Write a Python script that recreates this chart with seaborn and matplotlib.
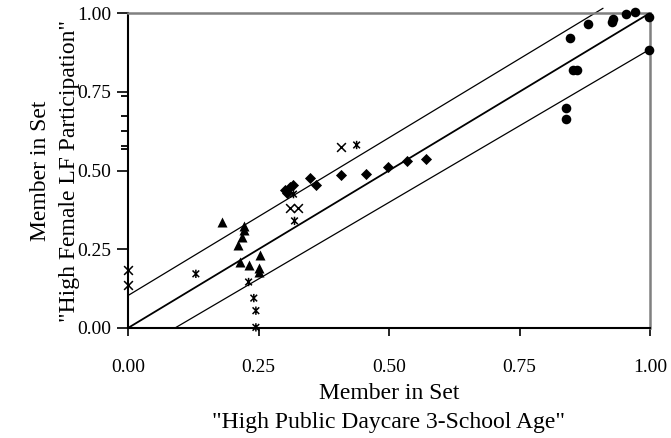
import numpy as np
import pandas as pd
import matplotlib
matplotlib.use("Agg")
import matplotlib.pyplot as plt
from matplotlib.path import Path
import seaborn as sns

# ---- data ----
circles_x = [0.847, 0.881, 0.927, 0.930, 0.954, 0.971, 0.998, 0.998, 0.853, 0.860, 0.839, 0.839]
circles_y = [0.920, 0.965, 0.970, 0.982, 0.997, 1.002, 0.988, 0.883, 0.819, 0.819, 0.697, 0.662]

diamonds_x = [0.301, 0.304, 0.310, 0.317, 0.349, 0.360, 0.409, 0.455, 0.499, 0.534, 0.570]
diamonds_y = [0.438, 0.427, 0.449, 0.454, 0.475, 0.454, 0.486, 0.489, 0.510, 0.530, 0.538]

triangles_x = [0.181, 0.222, 0.222, 0.218, 0.211, 0.215, 0.232, 0.253, 0.250, 0.250]
triangles_y = [0.338, 0.324, 0.311, 0.290, 0.263, 0.210, 0.200, 0.232, 0.190, 0.177]

xmarks_x = [0.0, 0.0, 0.409, 0.310, 0.325]
xmarks_y = [0.184, 0.138, 0.576, 0.380, 0.380]

asterisk_x = [0.130, 0.231, 0.241, 0.245, 0.245, 0.438, 0.319, 0.317]
asterisk_y = [0.172, 0.146, 0.095, 0.055, 0.002, 0.581, 0.340, 0.425]

dashes_x = [-0.005, -0.005, -0.005, -0.005, -0.005]
dashes_y = [0.735, 0.673, 0.626, 0.577, 0.569]

# reference lines
center_x = [0.0, 1.0]
center_y = [0.0, 1.0]
upper_x = [0.0, 0.91]
upper_y = [0.103, 1.015]
lower_x = [0.09, 1.0]
lower_y = [0.0, 0.885]

ticks = [0.0, 0.25, 0.5, 0.75, 1.0]
tick_labels = ["0.00", "0.25", "0.50", "0.75", "1.00"]

xlabel = 'Member in Set\n"High Public Daycare 3-School Age"'
ylabel = 'Member in Set\n"High Female LF Participation"'

# ---- style ----
sns.set_style("white")
plt.rcParams["font.family"] = ["Liberation Serif", "DejaVu Serif"]

fig = plt.figure(figsize=(6.71, 4.38), dpi=100)
ax = fig.add_axes([128 / 671, 1 - 328 / 438, (650 - 128) / 671, (328 - 13) / 438])

# lines
for lx, ly, lw in [(center_x, center_y, 1.3), (upper_x, upper_y, 0.9), (lower_x, lower_y, 0.9)]:
    sns.lineplot(x=lx, y=ly, ax=ax, color="black", linewidth=lw, legend=False)
for l in ax.lines:
    l.set_clip_on(False)

asterisk = Path([(-1, -1), (1, 1), (-1, 1), (1, -1), (0, -1.25), (0, 1.25)],
                [Path.MOVETO, Path.LINETO, Path.MOVETO, Path.LINETO, Path.MOVETO, Path.LINETO])

sns.scatterplot(x=circles_x, y=circles_y, ax=ax, marker="o", s=48, color="black",
                edgecolor="black", linewidth=0, clip_on=False, zorder=3)
sns.scatterplot(x=diamonds_x, y=diamonds_y, ax=ax, marker="D", s=32, color="black",
                edgecolor="black", linewidth=0, clip_on=False, zorder=3)
sns.scatterplot(x=triangles_x, y=triangles_y, ax=ax, marker="^", s=52, color="black",
                edgecolor="black", linewidth=0, clip_on=False, zorder=3)
sns.scatterplot(x=xmarks_x, y=xmarks_y, ax=ax, marker="x", s=40, color="black",
                linewidth=1.1, clip_on=False, zorder=3)
sns.scatterplot(x=asterisk_x, y=asterisk_y, ax=ax, marker=asterisk, s=36,
                facecolor="none", edgecolor="black",
                linewidth=1.1, clip_on=False, zorder=3)
sns.scatterplot(x=dashes_x, y=dashes_y, ax=ax, marker="_", s=40, color="black",
                linewidth=1.3, clip_on=False, zorder=3)

ax.set_xlim(0, 1)
ax.set_ylim(0, 1)
ax.set_xticks(ticks)
ax.set_xticklabels(tick_labels)
ax.set_yticks(ticks)
ax.set_yticklabels(tick_labels)
ax.tick_params(axis="both", direction="out", length=6, width=1.2, color="black",
               labelsize=14, labelcolor="black")
ax.tick_params(axis="x", pad=16)
ax.tick_params(axis="y", length=8, pad=4)
ax.tick_params(bottom=True, left=True)

ax.set_xlabel(xlabel, fontsize=17, linespacing=1.5, color="black")
ax.set_ylabel(ylabel, fontsize=17, linespacing=1.5, color="black")
ax.xaxis.set_label_coords(0.5, -0.175)
ax.yaxis.set_label_coords(-0.092, 0.5)

for side in ["left", "bottom"]:
    ax.spines[side].set_color("black")
    ax.spines[side].set_linewidth(1.5)
for side in ["top", "right"]:
    ax.spines[side].set_color("#808080")
    ax.spines[side].set_linewidth(1.8)
ax.grid(False)

fig.savefig("out.png", dpi=100)
